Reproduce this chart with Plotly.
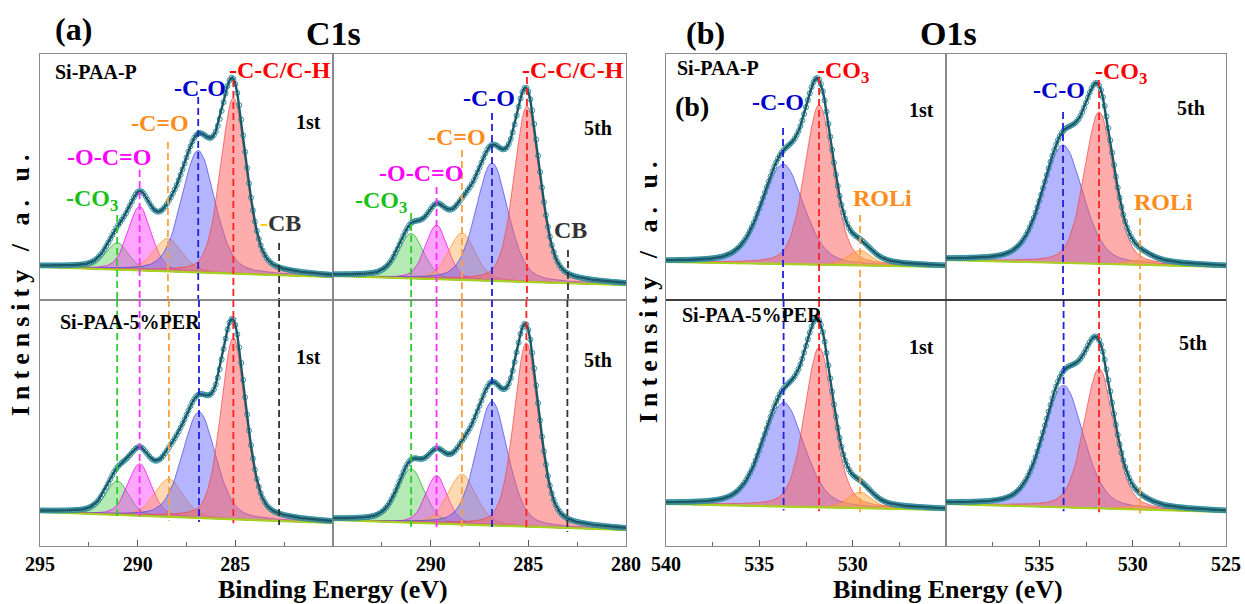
import numpy as np
import plotly.graph_objects as go

W, H = 1245, 604

# ---------------- data ----------------
# C1s components: -CO3, -O-C=O, -C=O, -C-O, -C-C/C-H
c1s_names = ["-CO3", "-O-C=O", "-C=O", "-C-O", "-C-C/C-H"]
c1s_P1_center = [291.05, 289.9, 288.45, 286.9, 285.1]
c1s_P1_height = [27, 64, 33, 122, 176]
c1s_P1_fwhm = [1.35, 1.4, 1.7, 2.0, 1.55]
c1s_P1_base = [33, 23]

c1s_P5_center = [291.0, 289.7, 288.4, 286.86, 285.07]
c1s_P5_height = [45, 54, 47, 118, 176]
c1s_P5_fwhm = [1.5, 1.35, 1.6, 1.95, 1.55]
c1s_P5_base = [24, 15]

c1s_E1_center = [291.05, 289.9, 288.4, 286.86, 285.1]
c1s_E1_height = [34, 52, 38, 106, 182]
c1s_E1_fwhm = [1.4, 1.4, 1.7, 2.0, 1.5]
c1s_E1_base = [34, 23]

c1s_E5_center = [291.0, 289.7, 288.4, 286.86, 285.1]
c1s_E5_height = [54, 48, 50, 124, 184]
c1s_E5_fwhm = [1.6, 1.3, 1.7, 1.9, 1.5]
c1s_E5_base = [26, 16]

c1s_cb = [282.76, 282.97, 282.76, 283.0]

# O1s components: -C-O, -CO3, ROLi
o1s_names = ["-C-O", "-CO3", "ROLi"]
o1s_P1_center = [533.73, 531.8, 529.6]
o1s_P1_height = [100, 160, 15]
o1s_P1_fwhm = [2.6, 1.8, 1.5]
o1s_P1_base = [38, 33]

o1s_P5_center = [533.73, 531.8, 529.6]
o1s_P5_height = [118, 152, 5]
o1s_P5_fwhm = [2.5, 1.85, 1.5]
o1s_P5_base = [40, 33]

o1s_E1_center = [533.7, 531.8, 529.6]
o1s_E1_height = [104, 160, 16]
o1s_E1_fwhm = [2.6, 1.8, 1.5]
o1s_E1_base = [42, 36]

o1s_E5_center = [533.7, 531.8, 529.6]
o1s_E5_height = [122, 140, 4]
o1s_E5_fwhm = [2.5, 1.9, 1.5]
o1s_E5_base = [42, 34]

c1s_range = [295, 280]
o1s_range = [540, 525]
c1s_ticks_left = [295, 290, 285]
c1s_ticks_right = [290, 285, 280]
o1s_ticks_left = [540, 535, 530]
o1s_ticks_right = [535, 530, 525]

# ---------------- styles ----------------
c1s_fill = ["rgba(60,200,60,0.38)", "rgba(255,40,255,0.42)", "rgba(255,165,70,0.42)",
            "rgba(90,90,255,0.45)", "rgba(255,90,90,0.5)"]
c1s_edge = ["rgba(40,170,40,0.7)", "rgba(230,0,230,0.7)", "rgba(255,140,40,0.7)",
            "rgba(70,70,230,0.7)", "rgba(240,70,70,0.7)"]
c1s_dash = ["#2ecc2e", "#ff2bff", "#ffa040", "#2020dd", "#ff2020"]
c1s_lab = ["#19c019", "#ff00ff", "#ff8c1a", "#0000cc", "#ff0000"]
o1s_fill = ["rgba(90,90,255,0.45)", "rgba(255,90,90,0.5)", "rgba(255,165,60,0.5)"]
o1s_edge = ["rgba(70,70,230,0.7)", "rgba(240,70,70,0.7)", "rgba(255,140,40,0.7)"]
o1s_dash = ["#2020dd", "#ff2020", "#ffa040"]
o1s_lab = ["#0000cc", "#ff0000", "#ff8c1a"]

FONT = "Liberation Serif, Times New Roman, Tinos, DejaVu Serif, serif"
ETA = 0.3


def px(xp):
    return xp / W


def py(yp):
    return 1 - yp / H


def profile(x, c, h, w):
    g = np.exp(-4 * np.log(2) * (x - c) ** 2 / w ** 2)
    l = 1 / (1 + 4 * (x - c) ** 2 / w ** 2)
    return h * ((1 - ETA) * g + ETA * l)


xdom_px = [(40, 333), (333, 626), (666, 946), (946, 1226)]
row_px = {"top": (54, 300), "bot": (300, 546)}

fig = go.Figure()
layout_axes = {}

panels = [
    (1, 0, "top", c1s_range, c1s_P1_center, c1s_P1_height, c1s_P1_fwhm, c1s_P1_base, "c", None),
    (2, 1, "top", c1s_range, c1s_P5_center, c1s_P5_height, c1s_P5_fwhm, c1s_P5_base, "c", None),
    (3, 0, "bot", c1s_range, c1s_E1_center, c1s_E1_height, c1s_E1_fwhm, c1s_E1_base, "c", c1s_ticks_left),
    (4, 1, "bot", c1s_range, c1s_E5_center, c1s_E5_height, c1s_E5_fwhm, c1s_E5_base, "c", c1s_ticks_right),
    (5, 2, "top", o1s_range, o1s_P1_center, o1s_P1_height, o1s_P1_fwhm, o1s_P1_base, "o", None),
    (6, 3, "top", o1s_range, o1s_P5_center, o1s_P5_height, o1s_P5_fwhm, o1s_P5_base, "o", None),
    (7, 2, "bot", o1s_range, o1s_E1_center, o1s_E1_height, o1s_E1_fwhm, o1s_E1_base, "o", o1s_ticks_left),
    (8, 3, "bot", o1s_range, o1s_E5_center, o1s_E5_height, o1s_E5_fwhm, o1s_E5_base, "o", o1s_ticks_right),
]

dash_top_px = {
    1: [215, 170, 142, 97, 80],
    2: [213, 187, 150, 113, 77],
    5: [128, 77, 215],
    6: [112, 80, 218],
}
cb_top_px = {1: 243, 2: 250}

for (k, col, row, rng, cen, hei, fw, base, kind, ticks) in panels:
    xa = "x" if k == 1 else f"x{k}"
    ya = "y" if k == 1 else f"y{k}"
    x = np.round(np.arange(min(rng), max(rng) + 0.001, 0.1), 2)
    bl = base[0] + (base[1] - base[0]) * (rng[0] - x) / (rng[0] - rng[1])
    fills = c1s_fill if kind == "c" else o1s_fill
    edges = c1s_edge if kind == "c" else o1s_edge
    dashes = c1s_dash if kind == "c" else o1s_dash
    env = bl.copy()
    for c, h, w, fc, ec in zip(cen, hei, fw, fills, edges):
        p = profile(x, c, h, w)
        env = env + p
        fig.add_trace(go.Scatter(
            x=np.concatenate([x, x[::-1]]), y=np.concatenate([bl + p, bl[::-1]]),
            fill="toself", fillcolor=fc, mode="lines", line=dict(color=ec, width=1),
            xaxis=xa, yaxis=ya, showlegend=False, hoverinfo="skip"))
    fig.add_trace(go.Scatter(x=x, y=bl, mode="lines", line=dict(color="#a6d321", width=2.2),
                             xaxis=xa, yaxis=ya, showlegend=False, hoverinfo="skip"))
    fig.add_trace(go.Scatter(x=x, y=env, mode="markers",
                             marker=dict(symbol="circle-open", size=5, color="#2f8fa0", line=dict(width=1)),
                             xaxis=xa, yaxis=ya, showlegend=False, hoverinfo="skip"))
    fig.add_trace(go.Scatter(x=x, y=env, mode="lines", line=dict(color="#1b5868", width=2.4),
                             xaxis=xa, yaxis=ya, showlegend=False, hoverinfo="skip"))

    lines = list(zip(cen, dashes))
    if kind == "c":
        lines.append((c1s_cb[k - 1], "#333333"))
    for i, (c, dc) in enumerate(lines):
        blc = base[0] + (base[1] - base[0]) * (rng[0] - c) / (rng[0] - rng[1])
        if row == "top":
            if kind == "c" and i == len(lines) - 1:
                ytop = 300 - cb_top_px[k]
            else:
                ytop = 300 - dash_top_px[k][i]
            ys = [ytop, 0]
        else:
            ys = [246, blc - 4]
        fig.add_trace(go.Scatter(x=[c, c], y=ys, mode="lines",
                                 line=dict(color=dc, width=1.8, dash="7px,4px"),
                                 xaxis=xa, yaxis=ya, showlegend=False, hoverinfo="skip"))

    x0p, x1p = xdom_px[col]
    xa_conf = dict(domain=[px(x0p), px(x1p)], range=rng, anchor=ya,
                   showline=True, mirror=True, linecolor="#8a8a8a", linewidth=1.2,
                   showgrid=False, zeroline=False, automargin=False)
    if ticks is not None:
        minor_vals = [float(v) for v in np.arange(min(rng) + 2.5, max(rng), 5)]
        xa_conf.update(tickmode="array", tickvals=ticks, ticktext=[f"<b>{t}</b>" for t in ticks],
                       ticks="inside", ticklen=6, tickcolor="#555", tickwidth=1.2,
                       tickfont=dict(family=FONT, size=20, color="black"),
                       minor=dict(tickmode="array", tickvals=minor_vals, ticks="inside",
                                  ticklen=4, tickcolor="#666"))
    else:
        xa_conf.update(showticklabels=False, ticks="")
    ya_conf = dict(domain=[py(row_px[row][1]), py(row_px[row][0])], range=[0, 246], anchor=xa,
                   showline=True, mirror=True, linecolor="#8a8a8a", linewidth=1.2,
                   showgrid=False, zeroline=False, showticklabels=False, ticks="", automargin=False)
    layout_axes["xaxis" if k == 1 else f"xaxis{k}"] = xa_conf
    layout_axes["yaxis" if k == 1 else f"yaxis{k}"] = ya_conf

fig.update_layout(**layout_axes)

ann = []


def txt(s, xp, yp, size, color="black", angle=0):
    ann.append(dict(text=f"<b>{s}</b>", x=px(xp), y=py(yp), xref="paper", yref="paper",
                    showarrow=False, xanchor="center", yanchor="middle", textangle=angle,
                    font=dict(family=FONT, size=size, color=color)))


txt("(a)", 73, 29, 32)
txt("C1s", 333, 34, 34)
txt("(b)", 705, 33, 32)
txt("O1s", 948, 34, 34)
ytitle = "<span style='letter-spacing:6px'>Intensity / a. u.</span>"
txt(ytitle, 20, 283, 26, angle=-90)
txt(ytitle, 648, 290, 26, angle=-90)
txt("Binding Energy (eV)", 333, 589, 26)
txt("Binding Energy (eV)", 948, 589, 26)
txt("Si-PAA-P", 96, 72, 20)
txt("Si-PAA-5%PER", 130, 322, 20)
txt("1st", 308, 122, 20)
txt("1st", 308, 357, 20)
txt("5th", 598, 128, 20)
txt("5th", 598, 360, 20)
txt("Si-PAA-P", 718, 68, 20)
txt("(b)", 692, 107, 28)
txt("Si-PAA-5%PER", 752, 315, 20)
txt("1st", 921, 110, 20)
txt("1st", 921, 347, 20)
txt("5th", 1191, 108, 20)
txt("5th", 1193, 343, 20)
c1s_lab_txt = ["-CO<sub>3</sub>", "-O-C=O", "-C=O", "-C-O", "-C-C/C-H"]
pos_tl = [(92, 200), (109, 157), (160, 123), (200, 88), (280, 70)]
pos_tr = [(381, 202), (421, 173), (457, 137), (489, 98), (573, 70)]
for s, c, (xx, yy) in zip(c1s_lab_txt, c1s_lab, pos_tl):
    txt(s, xx, yy, 24, c)
for s, c, (xx, yy) in zip(c1s_lab_txt, c1s_lab, pos_tr):
    txt(s, xx, yy, 24, c)
txt("<span style='color:#f5d000'>-</span>CB", 280, 223, 24, "#333333")
txt("CB", 570, 230, 24, "#333333")
o1s_lab_txt = ["-C-O", "-CO<sub>3</sub>", "ROLi"]
for s, c, (xx, yy) in zip(o1s_lab_txt, o1s_lab, [(778, 102), (843, 72), (882, 198)]):
    txt(s, xx, yy, 24, c)
for s, c, (xx, yy) in zip(o1s_lab_txt, o1s_lab, [(1059, 90), (1121, 73), (1163, 202)]):
    txt(s, xx, yy, 24, c)

# darker divider between the O1s rows
shapes = [dict(type="line", xref="paper", yref="paper", x0=px(666), x1=px(1226),
               y0=py(300), y1=py(300), line=dict(color="#222222", width=1.6))]

fig.update_layout(
    annotations=ann,
    shapes=shapes,
    width=W, height=H,
    margin=dict(l=0, r=0, t=0, b=0, autoexpand=False),
    paper_bgcolor="white", plot_bgcolor="white",
    showlegend=False,
)

fig.write_html("out.html")
